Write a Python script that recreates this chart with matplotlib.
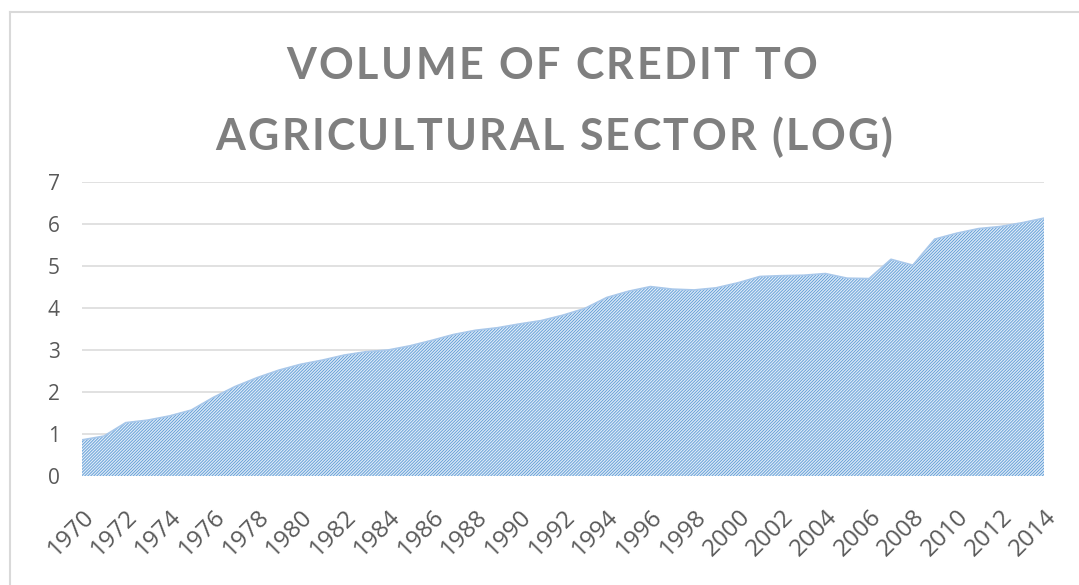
import numpy as np
import matplotlib
matplotlib.use('Agg')
import matplotlib.pyplot as plt
from matplotlib.lines import Line2D

years = list(range(1970, 2015))
credit_log = [0.86, 0.95, 1.27, 1.33, 1.43, 1.57, 1.87, 2.13, 2.34, 2.52,
              2.66, 2.76, 2.88, 2.96, 3.00, 3.10, 3.23, 3.37, 3.47, 3.53,
              3.62, 3.70, 3.83, 3.99, 4.25, 4.40, 4.51, 4.45, 4.43, 4.48,
              4.60, 4.75, 4.77, 4.78, 4.82, 4.71, 4.70, 5.16, 5.02, 5.64,
              5.78, 5.89, 5.94, 6.03, 6.14]
yticks = [0, 1, 2, 3, 4, 5, 6, 7]
xticks = years[::2]
title1 = 'VOLUME OF CREDIT TO'
title2 = 'AGRICULTURAL SECTOR (LOG)'

plt.rcParams['hatch.linewidth'] = 0.6
plt.rcParams['hatch.color'] = '#5b9bd5'

fig = plt.figure(figsize=(10.79, 5.85), dpi=100)
ax = fig.add_axes([82/1079, 1-476/585, (1044-82)/1079, (476-182)/585])

ax.fill_between(years, credit_log, 0, facecolor='#dde9f7', edgecolor='#5b9bd5',
                hatch='/' * 11, linewidth=0, zorder=2)
ax.plot(years, credit_log, color='#a9c8ea', lw=1.2, zorder=3)

ax.set_xlim(1970, 2014)
ax.set_ylim(0, 7)
ax.set_yticks(yticks)
ax.set_xticks(xticks)
ax.set_xticklabels([str(y) for y in xticks])
ax.grid(axis='y', color='#d9d9d9', lw=1.1, zorder=0)
ax.set_axisbelow(True)
for s in ax.spines.values():
    s.set_visible(False)
ax.tick_params(length=0, labelsize=15, labelcolor='#595959')
ax.tick_params(axis='x', labelsize=17.5)
ax.tick_params(axis='y', pad=16)
ax.tick_params(axis='x', pad=21)
for lab in ax.get_xticklabels() + ax.get_yticklabels():
    lab.set_fontfamily('Open Sans')
plt.setp(ax.get_xticklabels(), rotation=45, ha='right', va='top', rotation_mode='anchor')

# title with letter spacing, one character at a time
renderer = fig.canvas.get_renderer()
tkw = dict(fontsize=31, fontweight='bold', color='#7f7f7f', family='Lato', va='center')

def text_width(s):
    t = fig.text(0, 0, s, **tkw)
    w = t.get_window_extent(renderer).width
    t.remove()
    return w

def spaced_text(s, xc, yc, gap):
    ref = text_width('I')
    offs = [text_width(s[:i] + 'I') - ref if i else 0 for i in range(len(s))]
    offs = [o + i * gap for i, o in enumerate(offs)]
    total = text_width(s) + gap * (len(s) - 1)
    x0 = xc - total / 2
    for ch, o in zip(s, offs):
        fig.text((x0 + o) / 1079, 1 - yc / 585, ch, ha='left', **tkw)

spaced_text(title1, 552, 66, 2.4)
spaced_text(title2, 554, 137, 2.4)

# chart border (left and top visible)
fig.add_artist(Line2D([9.5/1079, 9.5/1079], [0, 1-12/585], color='#d9d9d9', lw=1.5))
fig.add_artist(Line2D([9.5/1079, 1], [1-12/585, 1-12/585], color='#d9d9d9', lw=1.5))

fig.savefig('out.png', dpi=100)
